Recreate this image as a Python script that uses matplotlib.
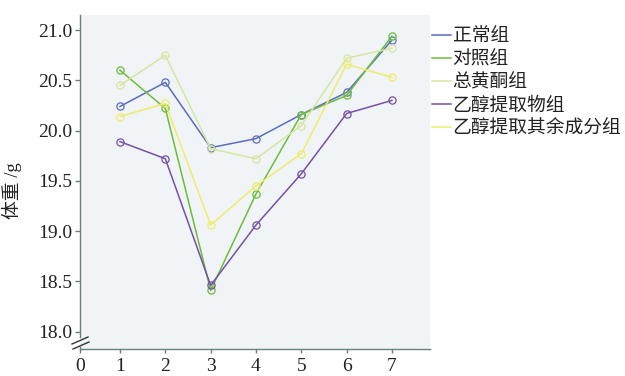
import matplotlib
matplotlib.use("Agg")
import matplotlib.pyplot as plt
from matplotlib.lines import Line2D

# Body weight (g) of each group over the observation days
days = [1, 2, 3, 4, 5, 6, 7]
normal = [20.24, 20.48, 19.83, 19.92, 20.16, 20.38, 20.90]
control = [20.60, 20.22, 18.41, 19.37, 20.16, 20.35, 20.94]
flavone = [20.45, 20.75, 19.82, 19.72, 20.05, 20.72, 20.82]
ethanol = [19.89, 19.72, 18.46, 19.06, 19.57, 20.17, 20.30]
residue = [20.14, 20.27, 19.06, 19.45, 19.77, 20.66, 20.53]

series = [normal, control, flavone, ethanol, residue]
labels = ["正常组", "对照组", "总黄酮组", "乙醇提取物组", "乙醇提取其余成分组"]
colors = ["#5a6cc2", "#6cbd3a", "#d5e6a0", "#7650a8", "#efeb6c"]

x_ticks = [0, 1, 2, 3, 4, 5, 6, 7]
y_ticks = [18.0, 18.5, 19.0, 19.5, 20.0, 20.5, 21.0]

serif = ["Liberation Serif", "Noto Sans CJK SC"]
cjk = ["Noto Sans CJK SC", "DejaVu Sans"]
axis_col = "#6b7f82"

fig = plt.figure(figsize=(6.25, 3.76), dpi=100)
ax = fig.add_axes([80 / 625, 27 / 376, 350 / 625, 334 / 376])
ax.set_facecolor("#f1f4f6")

for vals, lab, col in zip(series, labels, colors):
    ax.plot(days, vals, color=col, lw=1.1, marker="o", ms=5.2,
            mfc="none", mec=col, mew=0.9, label=lab)

# broken axis: x origin sits at the left edge
x_left, x_right = 0.117, 7.84
ax.set_xlim(x_left, x_right)
ax.set_ylim(17.827, 21.15)

ax.set_xticks([x_left] + x_ticks[1:])
ax.set_xticklabels([str(v) for v in x_ticks])
ax.set_yticks(y_ticks)
ax.set_yticklabels([f"{v:.1f}" for v in y_ticks])

for side in ("top", "right", "left"):
    ax.spines[side].set_visible(False)
ax.spines["bottom"].set_color(axis_col)
ax.spines["bottom"].set_linewidth(1.0)

ax.tick_params(axis="both", direction="out", color=axis_col, width=1.0,
               labelcolor="#222222", labelsize=14)
ax.tick_params(axis="y", length=3.5, pad=2)
ax.tick_params(axis="x", length=3.2, pad=3)
for t in ax.get_xticklabels() + ax.get_yticklabels():
    t.set_family(serif)


def fx(px):
    return (px - 80) / 350


def fy(py):
    return (349 - py) / 334


# left spine with a break near the origin
for y0, y1 in ((fy(15), fy(337)), (fy(347), fy(349))):
    ax.add_line(Line2D([0, 0], [y0, y1], transform=ax.transAxes,
                       color=axis_col, lw=1.0, clip_on=False))
for (xa, ya), (xb, yb) in (((72, 344), (88, 337)), ((73, 349), (89, 342))):
    ax.add_line(Line2D([fx(xa), fx(xb)], [fy(ya), fy(yb)],
                       transform=ax.transAxes, color="#333333", lw=1.0,
                       clip_on=False))

ax.set_ylabel("体重 /g", family=serif, fontsize=13.5, color="#222222")
ax.yaxis.set_label_coords(fx(22), fy(191))

leg = fig.legend(loc="upper left", bbox_to_anchor=(432 / 625, 1 - 26 / 376),
                 frameon=False, prop={"family": cjk, "size": 13.5},
                 handlelength=1.0, handletextpad=0.1, labelspacing=0.1,
                 borderpad=0, borderaxespad=0)
for t in leg.get_texts():
    t.set_color("#222222")
for h in leg.legend_handles:
    h.set_marker("")

fig.savefig("out.png", dpi=100)
